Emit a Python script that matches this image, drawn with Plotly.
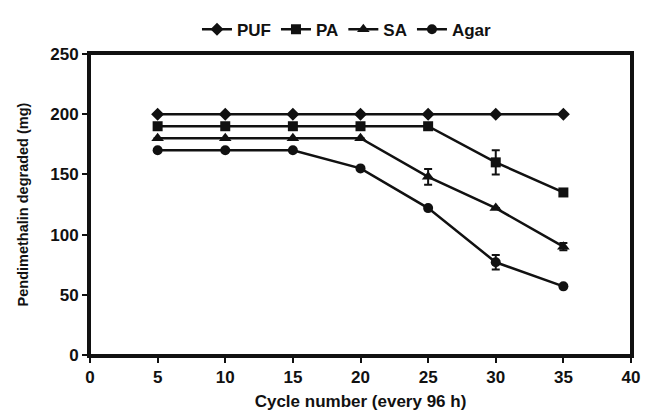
import plotly.graph_objects as go

cycles = [5, 10, 15, 20, 25, 30, 35]
puf = [200, 200, 200, 200, 200, 200, 200]
pa = [190, 190, 190, 190, 190, 160, 135]
pa_err = [0, 0, 0, 0, 0, 10, 0]
sa = [180, 180, 180, 180, 148, 122, 90]
sa_err = [0, 0, 0, 0, 6.5, 0, 3]
agar = [170, 170, 170, 155, 122, 77, 57]
agar_err = [0, 0, 0, 0, 0, 6, 0]

x_ticks = [0, 5, 10, 15, 20, 25, 30, 35, 40]
y_ticks = [0, 50, 100, 150, 200, 250]

series = [
    ("PUF", puf, None, "diamond", 10),
    ("PA", pa, pa_err, "square", 10),
    ("SA", sa, sa_err, "triangle-up", 11),
    ("Agar", agar, agar_err, "circle", 10),
]

fig = go.Figure()
for name, vals, err, sym, sz in series:
    kw = {}
    if err is not None:
        kw["error_y"] = dict(type="data", array=err, visible=True,
                             color="#111111", thickness=2, width=4)
    fig.add_trace(go.Scatter(
        x=cycles, y=vals, name=f"<b>{name}</b>", mode="lines+markers",
        line=dict(color="#111111", width=2.5),
        marker=dict(symbol=sym, size=sz, color="#111111"),
        **kw))

font = "Liberation Sans, Arial, sans-serif"
fig.update_layout(
    width=651, height=411,
    margin=dict(l=90, r=20, t=48, b=56),
    paper_bgcolor="white", plot_bgcolor="white",
    font=dict(family=font, size=14, color="#111111"),
    showlegend=True,
    legend=dict(orientation="h", x=0.475, xanchor="center", y=1.081, yanchor="middle",
                font=dict(family=font, size=17, color="#111111"),
                itemwidth=30, tracegroupgap=0, bgcolor="rgba(0,0,0,0)"),
    shapes=[dict(type="rect", xref="paper", yref="paper", x0=0, x1=1, y0=0, y1=1,
                 line=dict(color="#111111", width=2), layer="above")],
)
fig.update_xaxes(
    range=[0, 40], tickvals=x_ticks, ticktext=[f"<b>{t}</b>" for t in x_ticks],
    showgrid=False, zeroline=False, showline=True, linecolor="#111111", linewidth=3,
    mirror=True, ticks="outside", ticklen=5, tickwidth=2, tickcolor="#111111",
    title=dict(text="<b>Cycle number (every 96 h)</b>", font=dict(size=17), standoff=10),
    tickfont=dict(size=17), automargin=False,
)
fig.update_yaxes(
    range=[0, 250], tickvals=y_ticks, ticktext=[f"<b>{t}</b>" for t in y_ticks],
    showgrid=False, zeroline=False, showline=True, linecolor="#111111", linewidth=3,
    mirror=True, ticks="outside", ticklen=5, tickwidth=2, tickcolor="#111111",
    title=dict(text="<b>Pendimethalin degraded (mg)</b>", font=dict(size=14.5), standoff=19),
    tickfont=dict(size=17), automargin=False,
)

fig.write_html("out.html")
